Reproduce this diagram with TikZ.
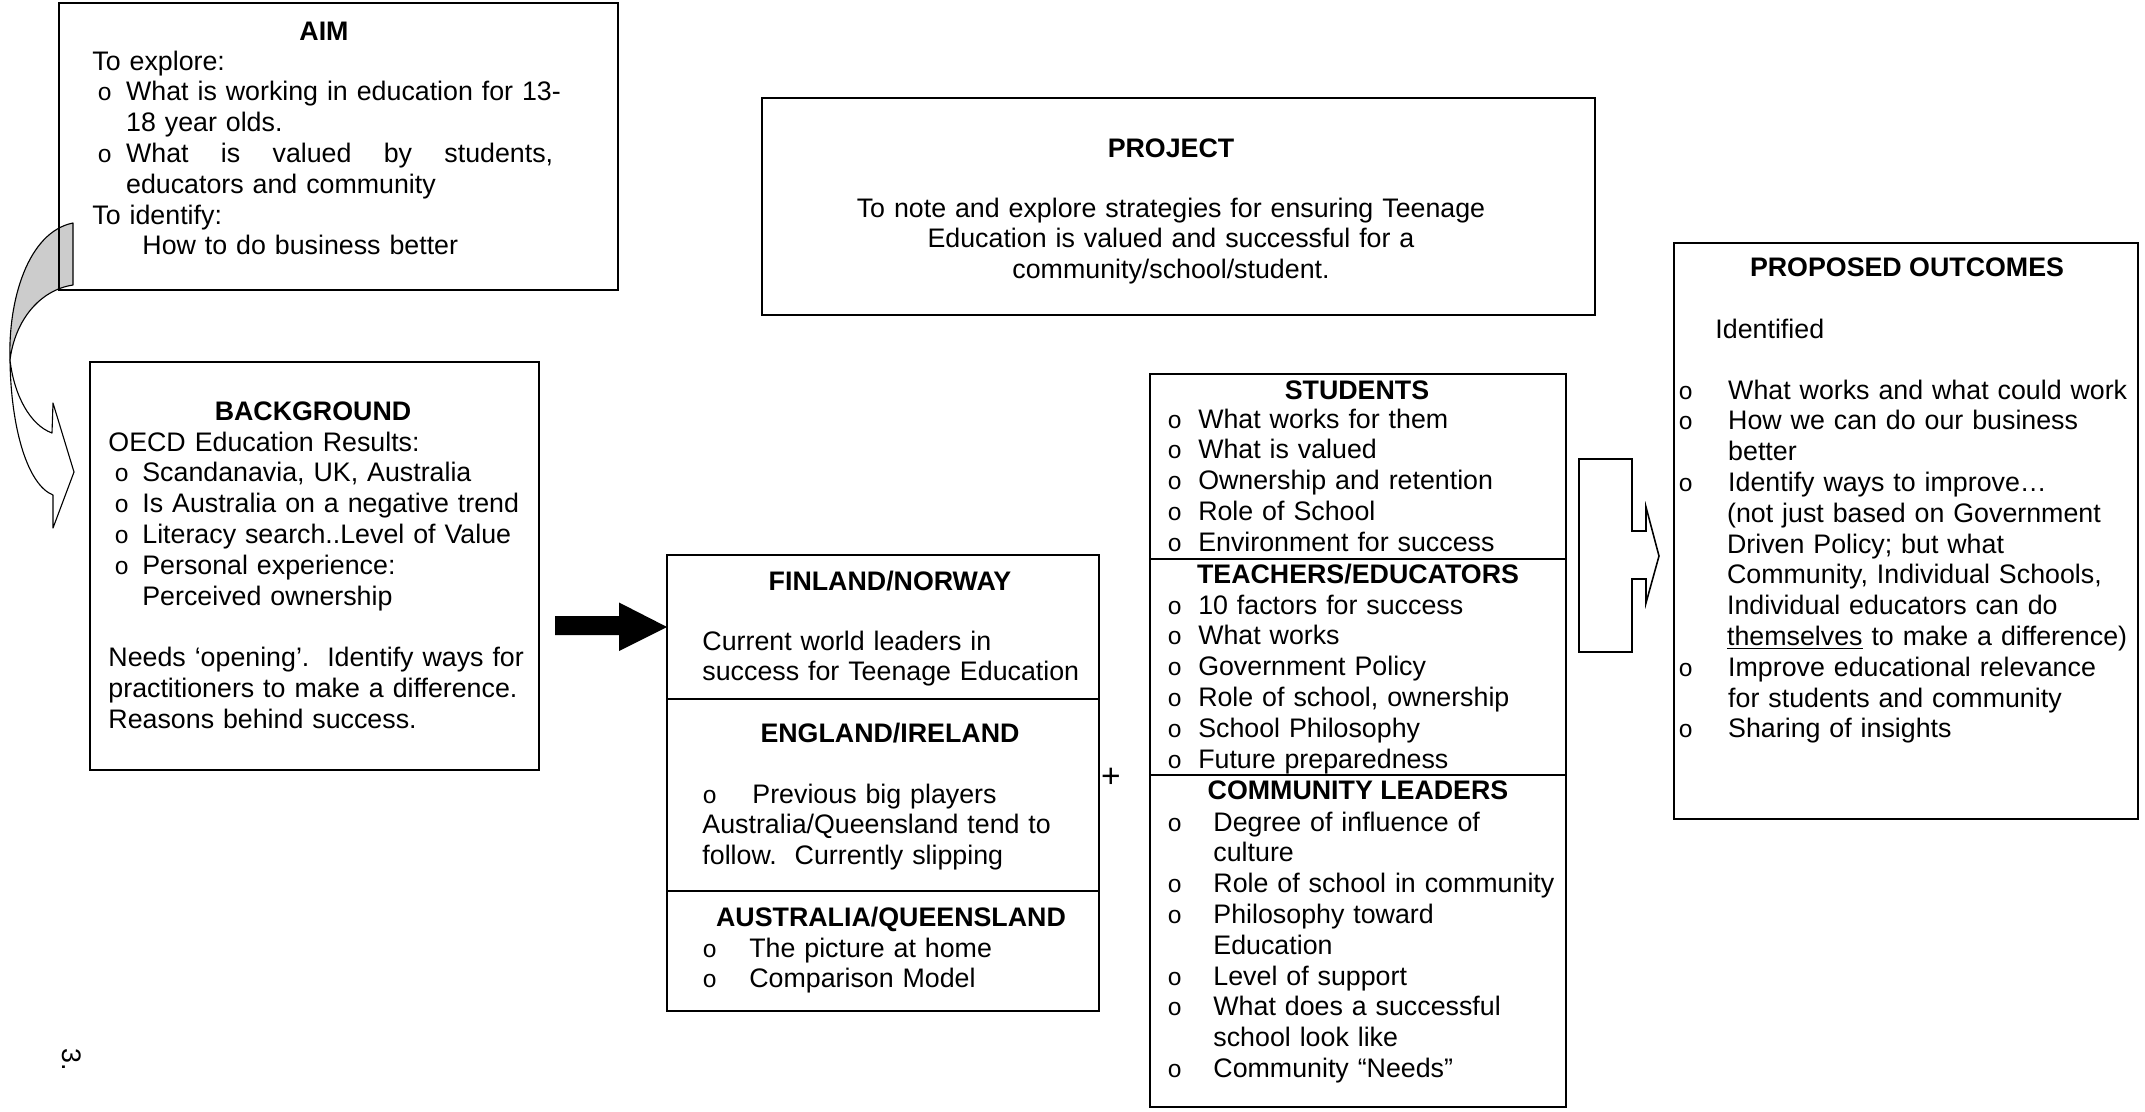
\documentclass[tikz,border=0pt]{standalone}
\usepackage{fontspec}
\setmainfont{Liberation Sans}
\newfontfamily\bulfont{Liberation Mono}
\usepackage{tikz}
\usetikzlibrary{positioning}

\newcommand{\twelve}{\fontsize{12}{13.8}\selectfont}
\newcommand{\bu}[1]{\makebox[#1][l]{\bulfont\fontsize{11}{11}\selectfont o}}

\tikzstyle{panel} = [rectangle, draw, line width=0.7pt, inner sep=0pt]
\tikzstyle{cell} = [rectangle, draw, line width=0.9pt, inner sep=0pt,
	outer sep=0pt, minimum width=186.4pt]
\tikzstyle{head} = [font=\twelve\bfseries, inner sep=0pt, anchor=base]
\tikzstyle{body} = [font=\twelve, inner sep=0pt, anchor=base west,
	text width=230pt, align=left]
\tikzstyle{ribbon} = [draw, line width=0.5pt, line join=round]
\tikzstyle{callout} = [draw, line width=0.7pt, line join=miter]

\begin{document}
\begin{tikzpicture}[x=0.448pt, y=-0.448pt, font=\twelve]

	\useasboundingbox (0,0) rectangle (2145,1111);

	% Ribbon arrow from AIM down to BACKGROUND (behind the AIM box)
	\path [ribbon, fill=gray!40] (73,223) .. controls (28,232) and (8,300) .. (10,360)
		.. controls (15,320) and (40,290) .. (73,285) -- cycle;
	\path [ribbon, fill=white] (10,360) .. controls (11,430) and (28,485) .. (53,495)
		-- (53,528) -- (74,472) -- (53,403) -- (52,433)
		.. controls (30,425) and (14,395) .. (10,360) -- cycle;

	% Place nodes
	\node [panel, minimum width=250.4pt, minimum height=128.6pt] (aim) at (338.5,146.5) {};
	\node [panel, minimum width=373.2pt, minimum height=97.2pt] (project) at (1178.5,206.5) {};
	\node [panel, minimum width=207.9pt, minimum height=258pt] (outcomes) at (1906,531) {};
	\node [panel, minimum width=201.2pt, minimum height=182.8pt] (background) at (314.5,566) {};

	\node [cell, line width=0.7pt, minimum width=193.5pt, minimum height=64.5pt] (finland) at (883,627) {};
	\node [cell, line width=0.7pt, minimum width=193.5pt, minimum height=86pt, below=0pt of finland] (england) {};
	\node [cell, line width=0.7pt, minimum width=193.5pt, minimum height=53.8pt, below=0pt of england] (australia) {};

	\node [cell, minimum height=82.9pt] (students) at (1358,466.5) {};
	\node [cell, minimum height=96.8pt, below=0pt of students] (teachers) {};
	\node [cell, minimum height=148.7pt, below=0pt of teachers] (community) {};

	% Texts
	\node [head] (aimT) at (324,40) {AIM};
	\node [body] (aimB) at (92,70) {To explore:\\
		\hspace*{2.2pt}\bu{12.9pt}What is working in education for 13-\\
		\hspace*{15.1pt}18 year olds.\\
		\hspace*{2.2pt}\bu{12.9pt}\hbox to 191.3pt{What\hfill is\hfill valued\hfill by\hfill students,}\\
		\hspace*{15.1pt}educators and community\\
		To identify:\\
		\hspace*{22.4pt}How to do business better};

	\node [head] (projectT) at (1171,157) {PROJECT};
	\node [body, anchor=base, text width=320pt, align=center] (projectB) at (1171,217) {To note and explore strategies for ensuring Teenage\\
		Education is valued and successful for a\\
		community/school/student.};

	\node [head] (backgroundT) at (313,420) {BACKGROUND};
	\node [body] (backgroundB) at (108,451) {OECD Education Results:\\
		\hspace*{2.7pt}\bu{12.5pt}Scandanavia, UK, Australia\\
		\hspace*{2.7pt}\bu{12.5pt}Is Australia on a negative trend\\
		\hspace*{2.7pt}\bu{12.5pt}Literacy search..Level of Value\\
		\hspace*{2.7pt}\bu{12.5pt}Personal experience:\\
		\hspace*{15.2pt}Perceived ownership\\[13.8pt]
		Needs ‘opening’.\ \ Identify ways for\\
		practitioners to make a difference.\\
		Reasons behind success.};

	\node [head] (finlandT) at (890,590) {FINLAND/NORWAY};
	\node [body] (finlandB) at (702,650) {Current world leaders in\\
		success for Teenage Education};
	\node [head] (englandT) at (890,742) {ENGLAND/IRELAND};
	\node [body] (englandB) at (702,803) {\bu{22.4pt}Previous big players\\
		Australia/Queensland tend to\\
		follow.\ \ Currently slipping};
	\node [head] (australiaT) at (891,926) {AUSTRALIA/QUEENSLAND};
	\node [body] (australiaB) at (702,957) {\bu{21pt}The picture at home\\
		\bu{21pt}Comparison Model};

	\node [font=\fontsize{15}{17}\selectfont] (plus) at (1111,778) {+};

	\node [head] (studentsT) at (1357,399) {STUDENTS};
	\node [body] (studentsB) at (1167,428) {\bu{13.8pt}What works for them\\
		\bu{13.8pt}What is valued\\
		\bu{13.8pt}Ownership and retention\\
		\bu{13.8pt}Role of School\\
		\bu{13.8pt}Environment for success};
	\node [head] (teachersT) at (1358,583) {TEACHERS/EDUCATORS};
	\node [body] (teachersB) at (1167,614) {\bu{13.8pt}10 factors for success\\
		\bu{13.8pt}What works\\
		\bu{13.8pt}Government Policy\\
		\bu{13.8pt}Role of school, ownership\\
		\bu{13.8pt}School Philosophy\\
		\bu{13.8pt}Future preparedness};
	\node [head] (communityT) at (1358,799) {COMMUNITY LEADERS};
	\node [body] (communityB) at (1167,831) {\bu{20.6pt}Degree of influence of\\
		\hspace*{20.6pt}culture\\
		\bu{20.6pt}Role of school in community\\
		\bu{20.6pt}Philosophy toward\\
		\hspace*{20.6pt}Education\\
		\bu{20.6pt}Level of support\\
		\bu{20.6pt}What does a successful\\
		\hspace*{20.6pt}school look like\\
		\bu{20.6pt}Community “Needs”};

	\node [head] (outcomesT) at (1907,276) {PROPOSED OUTCOMES};
	\node [body] (identified) at (1715,338) {Identified};
	\node [body] (outcomesB) at (1678,399) {\bu{22.3pt}What works and what could work\\
		\bu{22.3pt}How we can do our business\\
		\hspace*{22.3pt}better\\
		\bu{22.3pt}Identify ways to improve…\\
		\hspace*{21.8pt}(not just based on Government\\
		\hspace*{21.8pt}Driven Policy; but what\\
		\hspace*{21.8pt}Community, Individual Schools,\\
		\hspace*{21.8pt}Individual educators can do\\
		\hspace*{21.8pt}\underline{themselves} to make a difference)\\
		\bu{22.3pt}Improve educational relevance\\
		\hspace*{22.3pt}for students and community\\
		\bu{22.3pt}Sharing of insights};

	\node [rotate=-90] (pageno) at (72,1060) {3.};

	% Draw edges
	\fill (finland.west) -- ++(-48,-24.5) -- ++(0,13.5) -- ++(-64,0)
		-- ++(0,19) -- ++(64,0) -- ++(0,16) -- cycle;
	\path [callout] (1579,459) -- (1632,459) -- (1632,531) -- (1646,531) -- (1646,507)
		-- (1659,556) -- (1646,603) -- (1646,579) -- (1632,579) -- (1632,652)
		-- (1579,652) -- cycle;
\end{tikzpicture}
\end{document}
